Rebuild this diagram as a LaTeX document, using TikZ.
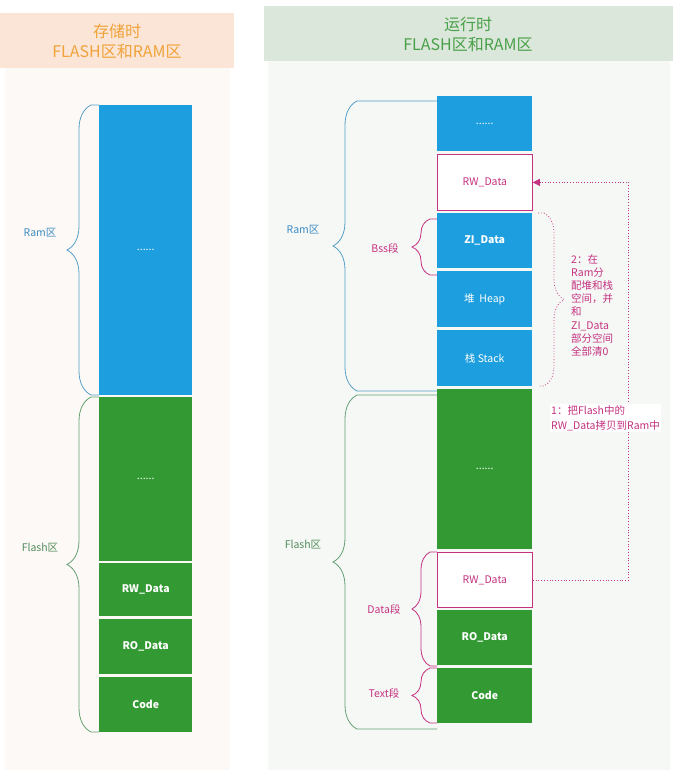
\documentclass[tikz,border=0pt]{standalone}
\usepackage{fontspec}
\setmainfont{Noto Sans CJK SC}
\usetikzlibrary{decorations.pathreplacing,arrows.meta}
\definecolor{ramblue}{RGB}{29,158,222}
\definecolor{flashgreen}{RGB}{51,153,51}
\definecolor{segpink}{RGB}{196,50,128}
\definecolor{ramline}{RGB}{86,160,200}
\definecolor{ramtext}{RGB}{60,140,195}
\definecolor{flashline}{RGB}{100,160,115}
\definecolor{flashtext}{RGB}{80,140,90}
\definecolor{storehead}{RGB}{251,229,214}
\definecolor{storetext}{RGB}{240,162,58}
\definecolor{storepanel}{RGB}{253,249,246}
\definecolor{runhead}{RGB}{220,231,220}
\definecolor{runtext}{RGB}{72,160,72}
\definecolor{runpanel}{RGB}{246,248,246}
\begin{document}
\begin{tikzpicture}[
                x=1pt, y=-1pt,
                block/.style={
                    rectangle,
                    anchor=north west,
                    inner sep=0pt,
                    minimum width=95pt,
                    text=white,
                    font=\fontsize{10.5}{12}\selectfont
                },
                ramblock/.style={
                    block,
                    fill=ramblue
                },
                flashblock/.style={
                    block,
                    fill=flashgreen
                },
                copyblock/.style={
                    block,
                    fill=white,
                    draw=segpink,
                    thick,
                    text=segpink
                },
                leftcol/.style={
                    minimum width=93pt
                },
                bigbrace/.style={
                    thick,
                    decoration={brace, mirror, amplitude=24pt}
                },
                segbrace/.style={
                    draw=segpink,
                    thick,
                    decoration={brace, mirror, amplitude=18pt}
                },
                headtext/.style={
                    align=center,
                    font=\fontsize{16}{20}\selectfont
                },
                note/.style={
                    align=left,
                    text=segpink,
                    inner sep=1pt,
                    font=\fontsize{10.5}{13.2}\selectfont
                },
                copyarrow/.style={
                    draw=segpink,
                    dotted,
                    thick,
                    -{Triangle[length=7pt,width=7pt]}
                }
            ]
    \useasboundingbox (0,0) rectangle (677,774);
    \fill[white] (0,0) rectangle (677,774);

    \fill[storepanel] (5,68) rectangle (230,770);
    \fill[storehead] (0,13) rectangle (234,68);
    \fill[runpanel] (268,61) rectangle (670,770);
    \fill[runhead] (264,6) rectangle (673,61);

    \node[headtext, text=storetext] (storetitle) at (117,41) {存储时\\FLASH区和RAM区};
    \node[headtext, text=runtext] (runtitle) at (468,34) {运行时\\FLASH区和RAM区};

    \node[ramblock, leftcol, minimum height=290pt] (lramdots) at (99,105) {......};
    \node[flashblock, leftcol, minimum height=164pt] (lflashdots) at (99,397) {......};
    \node[flashblock, leftcol, minimum height=53pt] (lrw) at (99,563) {\textbf{RW\_Data}};
    \node[flashblock, leftcol, minimum height=55pt] (lro) at (99,619) {\textbf{RO\_Data}};
    \node[flashblock, leftcol, minimum height=55pt] (lcode) at (99,677) {\textbf{Code}};

    \node[ramblock, minimum height=55pt] (rramdots) at (437,96) {......};
    \node[copyblock, minimum height=56pt] (rrw) at (437,154) {RW\_Data};
    \node[ramblock, minimum height=55pt] (rzi) at (437,213) {\textbf{ZI\_Data}};
    \node[ramblock, minimum height=56pt] (rheap) at (437,271) {堆\ \ Heap};
    \node[ramblock, minimum height=56pt] (rstack) at (437,330) {栈 Stack};
    \node[flashblock, minimum height=160pt] (rflashdots) at (437,389) {......};
    \node[copyblock, minimum height=55pt] (rrwf) at (437,552) {RW\_Data};
    \node[flashblock, minimum height=55pt] (rro) at (437,610) {\textbf{RO\_Data}};
    \node[flashblock, minimum height=55pt] (rcode) at (437,668) {\textbf{Code}};

    \draw[bigbrace, draw=ramline] (99,105) -- (91,105) decorate {-- (91,395)} -- (99,395);
    \draw[bigbrace, draw=flashline] (99,397) -- (91,397) decorate {-- (91,732)} -- (99,732);
    \node[text=ramtext, font=\fontsize{10.5}{12}\selectfont] (lramlabel) at (40,233) {Ram区};
    \node[text=flashtext, font=\fontsize{10.5}{12}\selectfont] (lflashlabel) at (40,548) {Flash区};

    \draw[bigbrace, draw=ramline] (437,101) -- (357,101) decorate {-- (357,391)} -- (437,391);
    \draw[bigbrace, draw=flashline] (437,395) -- (357,395) decorate {-- (357,729)} -- (437,729);
    \node[text=ramtext, font=\fontsize{10.5}{12}\selectfont] (rramlabel) at (303,230) {Ram区};
    \node[text=flashtext, font=\fontsize{10.5}{12}\selectfont] (rflashlabel) at (303,545) {Flash区};

    \draw[segbrace] (437,219) -- (430,219) decorate {-- (430,275)} -- (437,275);
    \draw[segbrace] (437,552) -- (430,552) decorate {-- (430,666)} -- (437,666);
    \draw[segbrace] (437,668) -- (430,668) decorate {-- (430,723)} -- (437,723);
    \node[note] (bsslabel) at (385,248) {Bss段};
    \node[note] (datalabel) at (384,609) {Data段};
    \node[note] (textlabel) at (384,693) {Text段};

    \draw[segbrace, dotted, decoration={brace, mirror=false, amplitude=20pt}] (538,213) -- (544,213) decorate {-- (544,386)} -- (538,386);
    \node[note, anchor=north west] (clearnote) at (570,253) {2：在\\Ram分\\配堆和栈\\空间，并\\和\\ZI\_Data\\部分空间\\全部清0};

    \draw[copyarrow] (rrwf.east) -- ++(96,0) |- (rrw.east);
    \node[note, anchor=north west, fill=white, font=\fontsize{10.5}{15}\selectfont] (copynote) at (550,404) {1：把Flash中的\\RW\_Data拷贝到Ram中};
\end{tikzpicture}
\end{document}
